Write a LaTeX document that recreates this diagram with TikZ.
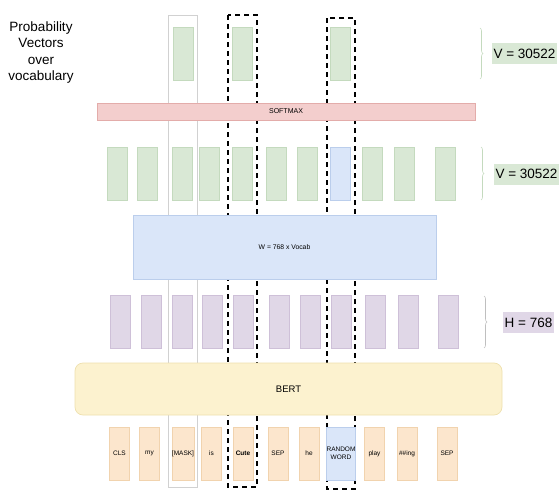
\documentclass[tikz,border=0pt]{standalone}
\usepackage{fontspec}
\setmainfont{Liberation Sans}
\usetikzlibrary{decorations.pathreplacing}
\definecolor{vecgreen}{HTML}{D9E8D5}
\definecolor{vecgreenline}{HTML}{C4DABE}
\definecolor{hidpurple}{HTML}{E0D7E7}
\definecolor{hidpurpleline}{HTML}{CEC0D8}
\definecolor{tokorange}{HTML}{FCE6CD}
\definecolor{tokorangeline}{HTML}{F1D3AE}
\definecolor{wblue}{HTML}{DAE6F9}
\definecolor{wblueline}{HTML}{BBCEEC}
\definecolor{smred}{HTML}{F3CECD}
\definecolor{smredline}{HTML}{E3ACAA}
\definecolor{bertyellow}{HTML}{FCF2CF}
\definecolor{bertyellowline}{HTML}{EEE0AE}
\tikzstyle{cell} = [draw, line width=0.7pt, minimum width=20pt, minimum height=53pt, inner sep=0pt]

\begin{document}
\begin{tikzpicture}[x=1pt,y=-1pt,
		prob/.style={cell,fill=vecgreen,draw=vecgreenline},
		hid/.style={cell,fill=hidpurple,draw=hidpurpleline},
		tok/.style={cell,fill=tokorange,draw=tokorangeline,font=\fontsize{6.5}{7.5}\selectfont,align=center},
		rnd/.style={cell,fill=wblue,draw=wblueline},
		dimlabel/.style={inner sep=2pt,minimum height=21pt,font=\fontsize{13.5}{15}\selectfont},
		vbrace/.style={draw=vecgreenline,line width=0.6pt,decorate,decoration={brace,amplitude=3pt}},
		hbrace/.style={draw=black!25,line width=0.6pt,decorate,decoration={brace,amplitude=3pt}},
		masked/.style={draw=black,line width=1.7pt,dash pattern=on 5pt off 4pt}]
		\useasboundingbox (0,0) rectangle (560,490);
		% column frames
		\draw [black!18,line width=0.5pt] (168,15) rectangle (197,487);
		\draw [masked] (228,15) rectangle (257,487);
		\draw [masked] (327,18) rectangle (355,489);
		% probability vectors
		\node (p1) [prob] at (183,53.5) {};
		\node (p2) [prob] at (242,53.5) {};
		\node (p3) [prob] at (340,53.5) {};
		\node (sm) [draw=smredline,fill=smred,line width=0.7pt,minimum width=378pt,minimum height=17pt,inner sep=0pt,font=\fontsize{7}{8}\selectfont] at (286,111.5) {SOFTMAX};
		% logits
		\node (v1) [prob] at (117,173.5) {};
		\node (v2) [prob] at (147,173.5) {};
		\node (v3) [prob] at (182,173.5) {};
		\node (v4) [prob] at (209,173.5) {};
		\node (v5) [prob] at (242,173.5) {};
		\node (v6) [prob] at (276,173.5) {};
		\node (v7) [prob] at (307,173.5) {};
		\node (v8) [rnd] at (340,173.5) {};
		\node (v9) [prob] at (372,173.5) {};
		\node (v10) [prob] at (404,173.5) {};
		\node (v11) [prob] at (445,173.5) {};
		\node (w) [draw=wblueline,fill=wblue,line width=0.7pt,minimum width=303pt,minimum height=64pt,inner sep=0pt,font=\fontsize{6.8}{8}\selectfont] at (284.5,247) {W = 768 x Vocab};
		% hidden states
		\node (h1) [hid] at (120.5,322) {};
		\node (h2) [hid] at (151,322) {};
		\node (h3) [hid] at (182,322) {};
		\node (h4) [hid] at (212,322) {};
		\node (h5) [hid] at (243,322) {};
		\node (h6) [hid] at (279,322) {};
		\node (h7) [hid] at (310,322) {};
		\node (h8) [hid] at (341,322) {};
		\node (h9) [hid] at (375,322) {};
		\node (h10) [hid] at (408,322) {};
		\node (h11) [hid] at (448,322) {};
		\node (bert) [draw=bertyellowline,fill=bertyellow,line width=0.7pt,rounded corners=8pt,minimum width=427pt,minimum height=52pt,inner sep=0pt,font=\fontsize{9.5}{11}\selectfont] at (288.5,389) {BERT};
		% input tokens
		\node (cls) [tok] at (119.5,453.5) {CLS};
		\node (my) [tok] at (149.5,453.5) {my};
		\node (mask) [tok] at (183,453.5) {[MASK]};
		\node (is) [tok] at (211.5,453.5) {is};
		\node (cute) [tok,font=\fontsize{6.5}{7.5}\selectfont\bfseries] at (243,453.5) {Cute};
		\node (sep1) [tok] at (278,453.5) {SEP};
		\node (he) [tok] at (309,453.5) {he};
		\node (rand) [tok,fill=wblue,draw=wblueline] at (341,453.5) {RANDOM\\WORD};
		\node (play) [tok] at (374.5,453.5) {play};
		\node (ing) [tok] at (407,453.5) {\#\#ing};
		\node (sep2) [tok] at (447,453.5) {SEP};
		% dimensions
		\node (title) [align=center,font=\fontsize{13.5}{16.5}\selectfont] at (41,52.5) {Probability\\Vectors\\over\\vocabulary};
		\draw [vbrace] (480,28) -- (480,79);
		\node (vtop) [dimlabel,fill=vecgreen] at (524.5,53.5) {V = 30522};
		\draw [vbrace] (481,147) -- (481,200);
		\node (vmid) [dimlabel,fill=vecgreen] at (526.5,174) {V = 30522};
		\draw [hbrace] (484,296) -- (484,348);
		\node (hdim) [dimlabel,fill=hidpurple] at (528.5,322.5) {H = 768};
\end{tikzpicture}
\end{document}
